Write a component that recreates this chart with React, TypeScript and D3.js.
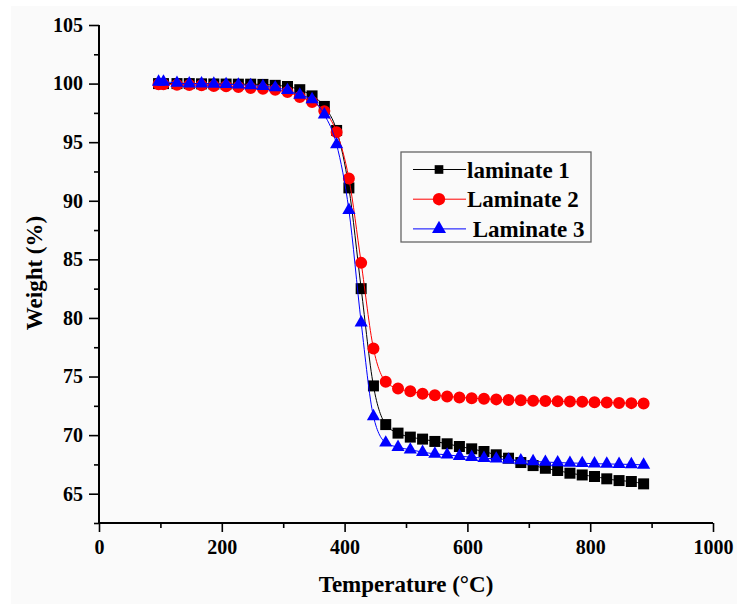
import React, { useRef, useEffect } from 'react';
import * as d3 from 'd3';

// temperatures (°C) of the plotted points
const temps = [97, 105, 127, 147, 167, 187, 207, 227, 247, 267, 287, 307, 327, 347, 367, 387, 407, 427, 447, 467,
  487, 507, 527, 547, 567, 587, 607, 627, 647, 667, 687, 707, 727, 747, 767, 787, 807, 827, 847, 867, 887];

const laminate1 = [100.0, 100.0, 100.0, 100.0, 99.98, 99.97, 99.96, 99.95, 99.95, 99.93,
  99.85, 99.75, 99.48, 98.95, 98.05, 96.0, 91.1, 82.5, 74.2, 70.9,
  70.17, 69.83, 69.66, 69.46, 69.26, 69.03, 68.83, 68.6, 68.32, 68.03,
  67.66, 67.4, 67.17, 66.98, 66.75, 66.6, 66.47, 66.27, 66.12, 66.04, 65.84];

const laminate2 = [99.94, 99.94, 99.9, 99.88, 99.85, 99.8, 99.77, 99.7, 99.63, 99.55,
  99.47, 99.28, 98.86, 98.43, 97.65, 95.85, 91.9, 84.7, 77.4, 74.55,
  73.97, 73.74, 73.54, 73.4, 73.3, 73.22, 73.15, 73.1, 73.05, 73.0,
  72.97, 72.94, 72.91, 72.88, 72.86, 72.84, 72.81, 72.78, 72.75, 72.73, 72.7];

const laminate3 = [100.15, 100.15, 100.05, 100.0, 100.0, 99.97, 99.94, 99.9, 99.85, 99.77,
  99.66, 99.43, 99.03, 98.65, 97.35, 94.8, 89.2, 79.6, 71.6, 69.35,
  68.97, 68.75, 68.55, 68.4, 68.32, 68.2, 68.12, 68.03, 67.98, 67.9,
  67.83, 67.76, 67.7, 67.66, 67.62, 67.6, 67.56, 67.54, 67.52, 67.5, 67.46];

const seriesNames = ['laminate 1', 'Laminate 2', ' Laminate 3'];
const seriesColors = ['#000000', '#ff0000', '#0000ff'];
const xTicks = [0, 200, 400, 600, 800, 1000];
const xMinorTicks = [100, 300, 500, 700, 900];
const yTicks = [65, 70, 75, 80, 85, 90, 95, 100, 105];
const yMinorTicks = [62.5, 67.5, 72.5, 77.5, 82.5, 87.5, 92.5, 97.5, 102.5];

const FONT = '"Liberation Serif", "Times New Roman", serif';

const App = () => {
  const ref = useRef<SVGSVGElement | null>(null);

  useEffect(() => {
    if (!ref.current) return;
    const svg = d3.select(ref.current);
    svg.selectAll('*').remove();

    const width = 737;
    const height = 608;

    // figure background
    svg.append('rect')
      .attr('x', 11).attr('y', 6)
      .attr('width', width - 11).attr('height', height - 10)
      .attr('fill', '#fafafa');

    const x = d3.scaleLinear().domain([0, 1000]).range([99, 713]);
    const y = d3.scaleLinear().domain([62.5, 105]).range([523, 25]);

    // axes (minor ticks in their own groups so the joins don't clash)
    const xAxis = d3.axisBottom(x).tickValues(xTicks).tickSize(9).tickPadding(8).tickFormat(d3.format('d'));
    const xMinor = d3.axisBottom(x).tickValues(xMinorTicks).tickSize(5).tickFormat(() => '');
    const yAxis = d3.axisLeft(y).tickValues(yTicks).tickSize(10).tickPadding(6).tickFormat(d3.format('d'));
    const yMinor = d3.axisLeft(y).tickValues(yMinorTicks).tickSize(5).tickFormat(() => '');

    const gxm = svg.append('g').attr('transform', `translate(0,${y.range()[0]})`).call(xMinor);
    const gym = svg.append('g').attr('transform', `translate(${x.range()[0]},0)`).call(yMinor);
    const gx = svg.append('g').attr('transform', `translate(0,${y.range()[0]})`).call(xAxis);
    const gy = svg.append('g').attr('transform', `translate(${x.range()[0]},0)`).call(yAxis);

    [gx, gy, gxm, gym].forEach(g => {
      g.selectAll('.domain').attr('stroke', '#000').attr('stroke-width', 2);
      g.selectAll('.tick line').attr('stroke', '#000').attr('stroke-width', 1.6);
      g.selectAll('.tick text')
        .attr('fill', '#000')
        .style('font-family', FONT)
        .style('font-weight', 'bold')
        .style('font-size', '20px');
    });
    gx.selectAll('.domain').attr('d', `M${x.range()[0]},0H${x.range()[1]}`);
    gy.selectAll('.domain').attr('d', `M0,${y.range()[0]}V${y.range()[1]}`);
    gxm.selectAll('.domain').remove();
    gym.selectAll('.domain').remove();

    // axis titles
    svg.append('text')
      .attr('x', 406).attr('y', 592)
      .attr('text-anchor', 'middle')
      .style('font-family', FONT).style('font-weight', 'bold').style('font-size', '23px')
      .text('Temperature (°C)');
    svg.append('text')
      .attr('transform', 'translate(42,273) rotate(-90)')
      .attr('text-anchor', 'middle')
      .style('font-family', FONT).style('font-weight', 'bold').style('font-size', '23px')
      .text('Weight (%)');

    const allSeries = [laminate1, laminate2, laminate3];
    const symbols = [
      d3.symbol().type(d3.symbolSquare).size(121),
      d3.symbol().type(d3.symbolCircle).size(113),
      d3.symbol().type(d3.symbolTriangle).size(75),
    ];

    const line = d3.line<number>()
      .x((d, i) => x(temps[i]))
      .y(d => y(d))
      .curve(d3.curveMonotoneX);

    allSeries.forEach((values, s) => {
      const g = svg.append('g');
      g.append('path')
        .attr('d', line(values))
        .attr('fill', 'none')
        .attr('stroke', seriesColors[s])
        .attr('stroke-width', 1);
      g.selectAll('path.pt')
        .data(values)
        .enter()
        .append('path')
        .attr('class', 'pt')
        .attr('d', symbols[s]())
        .attr('transform', (d, i) => `translate(${x(temps[i])},${y(d)})`)
        .attr('fill', seriesColors[s]);
    });

    // legend
    const legend = svg.append('g');
    legend.append('rect')
      .attr('x', 401).attr('y', 152)
      .attr('width', 190).attr('height', 90)
      .attr('fill', 'none')
      .attr('stroke', '#666')
      .attr('stroke-width', 1.3);
    const legendSymbols = [
      d3.symbol().type(d3.symbolSquare).size(75),
      d3.symbol().type(d3.symbolCircle).size(120),
      d3.symbol().type(d3.symbolTriangle).size(85),
    ];
    seriesNames.forEach((name, s) => {
      const ly = 169.5 + s * 29.7;
      legend.append('line')
        .attr('x1', 413).attr('x2', 466)
        .attr('y1', ly).attr('y2', ly)
        .attr('stroke', seriesColors[s])
        .attr('stroke-width', 1);
      legend.append('path')
        .attr('d', legendSymbols[s]())
        .attr('transform', `translate(439,${ly})`)
        .attr('fill', seriesColors[s]);
      legend.append('text')
        .attr('x', 467).attr('y', ly + 8)
        .attr('xml:space', 'preserve')
        .style('white-space', 'pre')
        .style('font-family', FONT).style('font-weight', 'bold').style('font-size', '23px')
        .text(name);
    });
  }, []);

  return (
    <svg
      ref={ref}
      width={737}
      height={608}
      style={{ position: 'absolute', left: 0, top: 0, background: '#fff' }}
    />
  );
};

export default App;
